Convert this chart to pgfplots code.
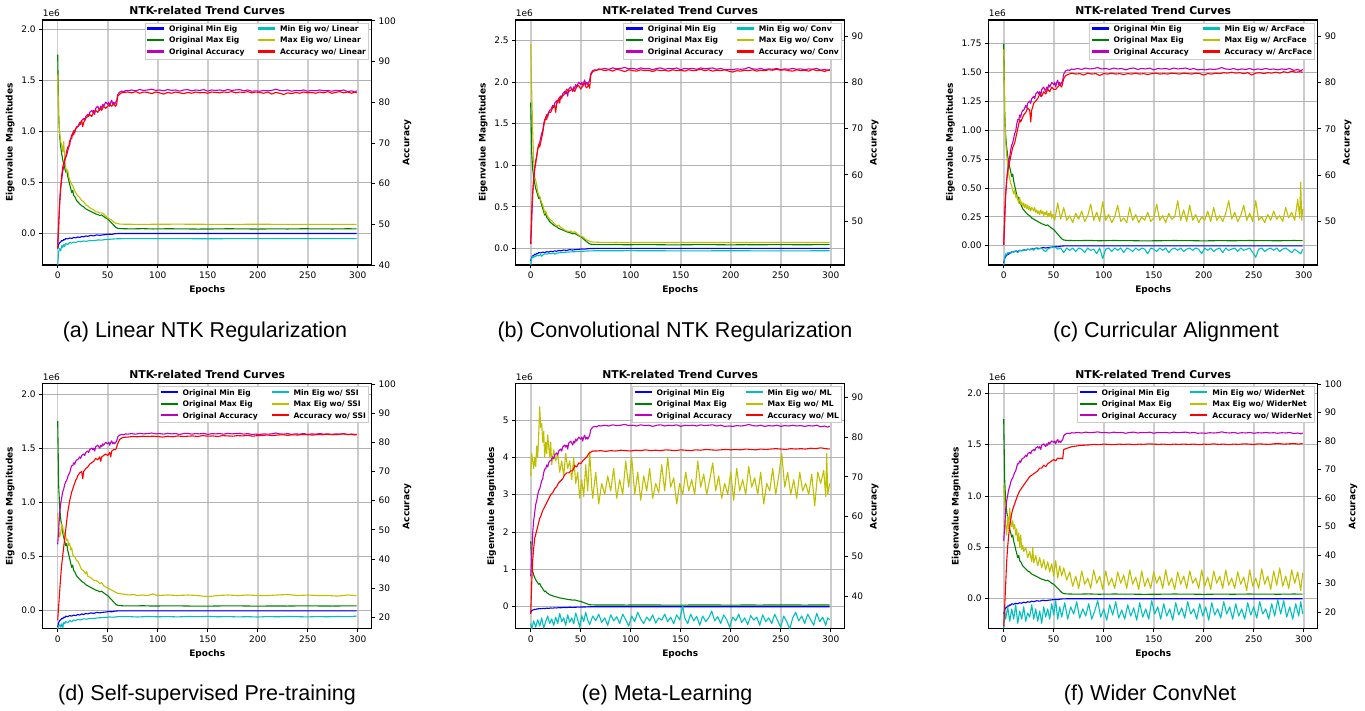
\documentclass[border=0pt]{standalone}
\usepackage{fontspec}
\setmainfont{DejaVu Sans}
\newfontfamily\capfont{Liberation Sans}
\usepackage{pgfplots}
\usepackage{pgfplotstable}
\pgfplotsset{compat=1.18}
\definecolor{mb}{rgb}{0,0,1}
\definecolor{mg}{rgb}{0,0.5,0}
\definecolor{mm}{rgb}{0.75,0,0.75}
\definecolor{mc}{rgb}{0,0.75,0.75}
\definecolor{my}{rgb}{0.75,0.75,0}
\definecolor{mr}{rgb}{1,0,0}

% ---------------- shared "Original" series ----------------
\pgfplotstableread{
x y
0 -0.15
1 -0.11
2 -0.09
3 -0.085
4 -0.07
5 -0.075
6 -0.06
7 -0.065
8 -0.05
10 -0.055
12 -0.045
14 -0.05
16 -0.04
18 -0.045
20 -0.035
22 -0.04
24 -0.03
26 -0.035
28 -0.025
30 -0.03
33 -0.02
36 -0.025
39 -0.015
42 -0.02
45 -0.015
48 -0.012
51 -0.008
54 -0.01
57 -0.004
60 -0.002
65 -0.001
299 -0.001
}\tOmin
\pgfplotstableread{
x y
0 1.75
1 1.15
2 0.95
3 0.85
4 0.78
5 0.72
6 0.68
7 0.64
8 0.6
9 0.62
10 0.56
11 0.52
12 0.48
13 0.44
14 0.4
15 0.42
16 0.37
17 0.36
18 0.34
19 0.32
20 0.31
22 0.29
24 0.27
26 0.26
28 0.24
30 0.23
32 0.22
34 0.21
36 0.2
38 0.19
40 0.185
42 0.175
44 0.18
46 0.165
48 0.15
50 0.14
52 0.12
54 0.1
56 0.08
58 0.06
60 0.05
62 0.047
66 0.045
75 0.044
85 0.046
95 0.043
110 0.045
125 0.044
140 0.042
155 0.043
170 0.045
185 0.044
200 0.042
215 0.044
230 0.043
245 0.045
260 0.044
275 0.043
290 0.045
299 0.044
}\tOmax
\pgfplotstableread{
x y
0 45
1 50
2 56
3 59
4 61
5 63
6 64
7 65.5
8 66.5
9 67
10 68
11 69
12 69.5
13 71
14 72
15 72
16 73
17 72.5
18 73.5
19 74
20 74
22 75
23 74.5
24 75.5
26 76
27 75.5
28 76.5
30 77
31 76.5
32 77.5
34 78
35 77.5
36 78
37 77
38 78.5
40 79
42 78
43 79
44 78.5
45 79.5
46 79
48 80
50 79.5
51 80
52 79
53 80
54 80.5
55 79.5
56 80
57 79.5
58 80
59 80.5
60 81.8
61 82.2
62 82.5
64 82.7
66 82.6
68 82.9
70 82.8
74 83
78 82.8
82 83.1
86 82.9
90 83
94 83.2
98 82.9
102 83
106 82.8
110 83.1
114 82.9
118 83
122 82.7
126 83
130 83.1
134 82.8
138 83
142 82.9
146 83.1
150 82.7
154 83
158 82.9
162 83
166 82.8
170 83.1
174 82.9
178 83
182 83.1
186 82.8
190 83
194 82.7
198 82.8
202 82.7
206 82.9
210 82.8
214 82.9
218 83.2
222 82.9
226 82.8
230 83
234 82.7
238 82.9
242 82.8
246 83
250 82.7
254 82.9
258 82.8
262 83
266 82.8
270 82.9
274 82.7
278 82.9
282 82.8
286 83
290 82.6
294 82.8
297 82.5
299 82.8
}\tOacc

% ---------------- (a) wo/ Linear ----------------
\pgfplotstableread{
x y
0 -0.31
1 -0.18
2 -0.15
3 -0.17
4 -0.12
5 -0.14
6 -0.11
7 -0.13
8 -0.1
10 -0.11
12 -0.09
14 -0.095
16 -0.085
18 -0.09
20 -0.08
23 -0.082
26 -0.075
29 -0.078
32 -0.07
36 -0.072
40 -0.065
44 -0.066
48 -0.06
52 -0.058
56 -0.055
60 -0.053
65 -0.052
100 -0.051
150 -0.053
200 -0.051
250 -0.052
299 -0.052
}\tAmin
\pgfplotstableread{
x y
0 1.55
1 1.15
2 0.98
3 0.9
4 0.86
5 0.8
6 0.9
7 0.72
8 0.65
9 0.6
10 0.62
11 0.56
12 0.52
13 0.5
14 0.48
15 0.47
16 0.44
17 0.42
18 0.4
19 0.38
20 0.37
22 0.35
24 0.32
26 0.31
28 0.28
30 0.27
32 0.25
34 0.24
36 0.23
38 0.21
40 0.21
42 0.2
44 0.2
46 0.19
48 0.17
50 0.15
52 0.14
54 0.13
56 0.11
58 0.1
60 0.095
63 0.09
80 0.088
120 0.09
160 0.088
200 0.089
240 0.088
299 0.088
}\tAmax
\pgfplotstableread{
x y
0 44
1 50
2 55
3 59
4 62
5 64
6 65
7 66
8 66.5
9 68
10 69
11 69
12 70.5
13 71
14 71
15 72.5
16 72
17 73
18 73.5
20 74
22 74.5
24 75.5
25 74
26 75
28 76
30 76.5
32 77
34 76.5
36 77.5
38 78
40 77.5
42 78.5
44 78
46 79
48 78.5
50 79
52 79.5
54 79
56 79.5
58 79
59 79.5
60 81.5
62 82
64 82.3
66 82.4
70 82.5
74 82.3
78 82.6
82 82.2
86 82.5
90 82.4
94 82.1
98 82.5
102 82.3
106 82
110 82.4
114 82.2
118 82.5
122 82.3
126 82.1
130 82.4
134 82.2
138 82.5
142 82.3
146 82.4
150 82.2
154 82.5
158 82.4
162 82.3
166 82.5
170 82.4
174 82.6
178 82.3
182 82.5
186 82.4
190 82.6
194 82.3
198 82.5
202 82.4
206 82.2
210 82.5
214 82
218 82.4
222 82.2
226 81.9
230 82.3
234 82.1
238 82.4
242 82.2
246 82.5
250 82.3
254 82.4
258 82.2
262 82.5
266 82.3
270 82.6
274 82.2
278 82.4
282 82.6
286 82.3
290 82.5
294 82.2
297 82.5
299 82.3
}\tAacc

% ---------------- (b) wo/ Conv ----------------
\pgfplotstableread{
x y
0 -0.2
1 -0.12
2 -0.1
3 -0.11
4 -0.09
5 -0.1
6 -0.08
8 -0.09
10 -0.075
11 -0.095
12 -0.08
14 -0.065
16 -0.07
18 -0.06
20 -0.065
23 -0.055
24 -0.07
26 -0.058
30 -0.05
35 -0.047
40 -0.042
45 -0.04
50 -0.037
55 -0.033
60 -0.03
65 -0.029
100 -0.028
150 -0.03
200 -0.029
250 -0.03
299 -0.029
}\tBmin
\pgfplotstableread{
x y
0 2.45
1 1.9
2 1.4
3 1.05
4 0.85
5 0.82
6 0.76
7 0.68
8 0.64
9 0.62
10 0.58
11 0.55
12 0.52
13 0.48
14 0.42
15 0.45
16 0.41
17 0.38
18 0.37
19 0.35
20 0.34
22 0.32
24 0.29
26 0.27
28 0.28
30 0.25
32 0.24
34 0.22
36 0.21
38 0.2
40 0.21
42 0.19
44 0.2
46 0.18
48 0.16
50 0.145
52 0.14
54 0.12
56 0.1
58 0.09
60 0.08
63 0.075
70 0.072
100 0.07
150 0.071
200 0.07
250 0.072
299 0.07
}\tBmax
\pgfplotstableread{
x y
0 45
1 52
2 56
3 59
4 61.5
5 62.5
6 64
7 65.5
8 66.5
9 66
10 67
11 68
12 69
13 70.5
14 71.5
15 72.5
16 72
17 73
18 73.5
20 73.5
22 74.5
24 75
25 73.5
26 75.5
28 76.5
29 75.5
30 77
32 77
34 77.5
36 78.5
38 78
40 78.3
42 78.5
44 78
46 79
48 79.3
50 78.5
52 79.3
54 79.8
55 79
56 78.8
58 79.5
59 78.7
60 81.5
62 82.3
64 82.5
66 82.6
70 82.8
74 82.5
78 82.7
82 82.4
86 82.8
90 82.6
94 82.3
98 82.7
102 82.5
106 82.4
110 82.7
114 82.5
118 82.6
122 82.3
126 82.7
130 82.5
134 82.6
138 82.4
142 82.7
146 82.5
150 82.6
154 82.4
158 82.7
162 82.5
166 82.6
170 82.8
174 82.5
178 82.7
182 82.4
186 82.6
190 82.5
194 82.7
198 82.4
202 82.2
206 82.5
210 82.4
214 82.6
218 82.5
222 82.7
226 82.4
230 82.6
234 82.5
238 82.7
242 82.6
246 82.8
250 82.6
254 82.7
258 82.5
262 82.4
266 82.7
270 82.5
274 82.6
278 82.4
282 82.8
286 82.5
290 82.6
294 82.3
297 82.7
299 82.5
}\tBacc

% ---------------- (c) w/ ArcFace ----------------
\pgfplotstableread{
x y
0 -0.17
1 -0.1
2 -0.07
3 -0.08
4 -0.06
6 -0.065
8 -0.05
10 -0.055
12 -0.045
14 -0.06
16 -0.04
18 -0.045
20 -0.035
22 -0.04
24 -0.03
26 -0.035
28 -0.025
30 -0.04
32 -0.02
34 -0.03
36 -0.025
38 -0.02
40 -0.04
42 -0.05
44 -0.03
46 -0.02
48 -0.015
51 -0.01
54 -0.03
57 -0.02
60 -0.06
63 -0.02
66 -0.04
69 -0.02
72 -0.05
75 -0.02
78 -0.03
81 -0.06
84 -0.02
87 -0.04
90 -0.03
93 -0.07
96 -0.02
99 -0.11
102 -0.03
105 -0.02
108 -0.05
111 -0.02
114 -0.04
117 -0.02
120 -0.06
123 -0.02
126 -0.03
129 -0.05
132 -0.02
135 -0.04
138 -0.02
141 -0.03
144 -0.07
147 -0.02
150 -0.03
153 -0.05
156 -0.02
159 -0.04
162 -0.02
165 -0.06
168 -0.03
171 -0.02
174 -0.04
177 -0.02
180 -0.05
183 -0.03
186 -0.02
189 -0.04
192 -0.02
195 -0.03
198 -0.07
201 -0.02
204 -0.04
207 -0.02
210 -0.05
213 -0.03
216 -0.02
219 -0.06
222 -0.02
225 -0.04
228 -0.03
231 -0.02
234 -0.05
237 -0.02
240 -0.04
243 -0.03
246 -0.02
249 -0.06
252 -0.1
255 -0.03
258 -0.02
261 -0.05
264 -0.03
267 -0.02
270 -0.04
273 -0.02
276 -0.05
279 -0.03
282 -0.02
285 -0.04
288 -0.06
291 -0.03
294 -0.05
297 -0.07
299 -0.03
}\tCmin
\pgfplotstableread{
x y
0 1.7
1 1.15
2 0.9
3 0.78
4 0.7
5 0.62
6 0.58
7 0.54
8 0.52
9 0.48
10 0.45
11 0.48
12 0.42
13 0.44
14 0.4
15 0.37
16 0.42
17 0.36
18 0.38
19 0.34
20 0.37
21 0.33
22 0.36
23 0.32
24 0.35
25 0.31
26 0.34
27 0.3
28 0.33
29 0.32
30 0.3
31 0.33
32 0.29
33 0.31
34 0.28
35 0.3
36 0.27
37 0.31
38 0.28
39 0.3
40 0.26
41 0.29
42 0.27
43 0.3
44 0.25
45 0.28
46 0.26
47 0.3
48 0.24
49 0.27
50 0.25
51 0.22
54 0.37
57 0.23
60 0.33
63 0.22
66 0.26
69 0.2
72 0.28
75 0.23
78 0.3
81 0.21
84 0.26
87 0.36
90 0.22
93 0.29
96 0.21
99 0.38
102 0.22
105 0.27
108 0.2
111 0.25
114 0.35
117 0.21
120 0.24
123 0.2
126 0.33
129 0.22
132 0.27
135 0.2
138 0.25
141 0.22
144 0.29
147 0.21
150 0.24
153 0.36
156 0.22
159 0.26
162 0.2
165 0.28
168 0.23
171 0.25
174 0.39
177 0.22
180 0.31
183 0.21
186 0.35
189 0.22
192 0.27
195 0.2
198 0.25
201 0.22
204 0.3
207 0.21
210 0.33
213 0.22
216 0.26
219 0.21
222 0.28
225 0.39
228 0.23
231 0.29
234 0.21
237 0.26
240 0.35
243 0.22
246 0.28
249 0.21
252 0.39
255 0.22
258 0.25
261 0.2
264 0.27
267 0.22
270 0.3
273 0.23
276 0.26
279 0.21
282 0.33
285 0.24
288 0.29
291 0.22
294 0.4
296 0.24
297 0.55
298 0.22
299 0.32
}\tCmax
\pgfplotstableread{
x y
0 45
1 52
2 56
3 59
4 61
5 62
6 63
7 64
8 65
9 66
10 66.5
11 67
12 68
13 69
14 70
15 71
16 72
17 71.5
18 72
20 73
22 73.5
24 74.5
26 74
27 71.5
28 74
30 75.5
32 76
34 76.5
36 77.5
38 77
40 78
42 77.5
44 78.5
46 78
48 79
50 78.5
52 78.5
54 79
56 79.5
58 79
60 80.8
62 81.5
64 81.7
68 82
72 81.8
76 81.9
80 81.6
84 82
88 81.8
92 81.9
96 81.5
100 81.9
104 81.8
108 82
112 81.8
116 81.9
120 81.7
124 81.9
128 81.8
132 82
136 81.8
140 81.9
144 81.7
148 81.9
152 82
156 81.8
160 81.9
164 81.8
168 82
172 81.9
176 81.8
180 82
184 81.9
188 81.8
192 82
196 81.9
200 81.6
204 81.9
208 81.8
212 82
216 81.9
220 82.1
224 82
228 82.2
232 82
236 82.1
240 81.9
244 82.1
248 81.6
252 82
256 82.1
260 81.9
264 82.1
268 82
272 82.2
276 82
280 82.3
284 82.1
288 82.4
292 82.2
296 82.3
299 82.2
}\tCacc

% ---------------- (d) wo/ SSI ----------------
\pgfplotstableread{
x y
0 -0.17
1 -0.14
2 -0.13
3 -0.15
4 -0.12
5 -0.16
6 -0.11
7 -0.12
8 -0.1
10 -0.11
12 -0.09
14 -0.1
16 -0.085
18 -0.09
20 -0.08
23 -0.085
26 -0.075
29 -0.078
32 -0.07
36 -0.072
40 -0.066
44 -0.064
48 -0.062
52 -0.058
56 -0.06
60 -0.055
70 -0.054
80 -0.058
90 -0.053
100 -0.056
110 -0.054
120 -0.057
130 -0.053
140 -0.055
150 -0.052
160 -0.056
170 -0.054
180 -0.057
190 -0.055
200 -0.058
210 -0.054
220 -0.056
230 -0.053
240 -0.055
250 -0.057
260 -0.054
270 -0.056
280 -0.053
290 -0.055
299 -0.05
}\tDmin
\pgfplotstableread{
x y
0 0.9
1 0.75
2 0.68
3 0.72
4 0.8
5 0.78
6 0.7
7 0.72
8 0.68
9 0.65
10 0.66
11 0.6
12 0.62
13 0.56
14 0.58
15 0.52
16 0.5
17 0.5
18 0.48
19 0.46
20 0.46
22 0.42
24 0.38
26 0.37
28 0.34
29 0.36
30 0.32
32 0.31
34 0.3
36 0.28
38 0.28
40 0.27
42 0.25
44 0.26
46 0.23
48 0.22
50 0.21
52 0.2
54 0.19
56 0.18
58 0.17
60 0.16
64 0.155
68 0.15
72 0.145
76 0.15
80 0.14
85 0.145
90 0.14
95 0.155
100 0.14
110 0.145
120 0.14
130 0.145
140 0.14
150 0.13
160 0.14
170 0.145
180 0.14
190 0.145
200 0.14
210 0.14
220 0.145
230 0.15
240 0.14
250 0.145
260 0.14
270 0.14
280 0.135
290 0.145
299 0.14
}\tDmax
\pgfplotstableread{
x y
0 19
1 24
2 29
3 34
4 38
5 41
6 44
7 47
8 50
9 53
10 56
11 58
12 60
13 61.5
14 63
15 64
16 65
17 66
18 67
19 67.5
20 68.5
22 69.5
24 70
25 67.5
26 70
28 71
30 71.5
32 72.5
34 73
36 73.5
38 74.5
40 74
42 75
43 73.5
44 75
46 75.5
48 76
50 75.5
52 76.5
53 75
54 77
56 77.5
58 77.5
60 79.5
62 81
64 81.5
66 81.7
70 81.8
75 82
80 81.9
85 82.1
90 82
95 82.1
100 82
105 81.8
110 82.1
115 81.9
120 82.2
125 82
130 82.1
135 82.2
140 82
145 82.3
150 82.1
155 82.2
160 82
165 82.3
170 82.2
175 82.1
180 82.3
185 82.2
190 82.4
195 82.1
200 82.3
205 82.4
210 82.5
215 82.3
220 82.5
225 82.6
230 82.4
235 82.6
240 82.5
245 82.7
250 82.6
255 82.5
260 82.7
265 82.6
270 82.8
275 82.6
280 82.7
285 82.9
290 82.7
295 82.8
299 82.6
}\tDacc

% ---------------- (e) wo/ ML ----------------
\pgfplotstableread{
x y
0 -0.45
1 -0.6
3 -0.38
5 -0.55
7 -0.35
9 -0.52
11 -0.3
13 -0.57
15 -0.4
17 -0.25
19 -0.45
21 -0.33
23 -0.5
25 -0.28
27 -0.45
29 -0.18
31 -0.4
33 -0.3
35 -0.5
37 -0.22
39 -0.42
41 -0.3
43 -0.46
45 -0.17
47 -0.35
49 -0.55
51 -0.24
53 -0.4
55 -0.15
57 -0.36
59 -0.48
62 -0.25
65 -0.38
68 -0.2
71 -0.42
74 -0.3
77 -0.5
80 -0.22
83 -0.38
86 -0.27
89 -0.45
92 -0.2
95 -0.35
98 -0.52
101 -0.25
104 -0.4
107 -0.15
110 -0.33
113 -0.45
116 -0.28
119 -0.38
122 -0.22
125 -0.44
128 -0.3
131 -0.36
134 -0.2
137 -0.4
140 -0.28
143 -0.46
146 -0.22
149 -0.35
152 0.02
154 -0.3
157 -0.45
160 -0.2
163 -0.38
166 -0.26
169 -0.5
172 -0.25
175 -0.4
178 -0.3
181 -0.12
184 -0.38
187 -0.27
190 -0.45
193 -0.22
196 -0.35
199 -0.55
202 -0.28
205 -0.38
208 -0.2
211 -0.42
214 -0.3
217 -0.48
220 -0.24
223 -0.36
226 -0.28
229 -0.5
232 -0.22
235 -0.4
238 -0.3
241 -0.45
244 -0.2
247 -0.38
250 -0.55
253 -0.25
256 -0.4
259 -0.6
262 -0.3
265 -0.15
268 -0.38
271 -0.25
274 -0.45
277 -0.2
280 -0.35
283 -0.5
286 -0.18
289 -0.4
292 -0.28
295 -0.5
297 -0.3
299 -0.35
}\tEmin
\pgfplotstableread{
x y
0 3.5
1 4.1
2 3.9
3 3.7
4 4.0
5 3.75
6 4.3
7 4.0
8 4.6
9 5.35
10 4.8
11 4.9
12 4.4
13 4.7
14 4.0
15 4.4
16 4.1
17 4.6
18 4.3
19 4.0
20 4.4
21 3.8
23 4.2
25 3.9
27 4.1
29 3.6
31 3.9
33 3.5
35 4.1
37 3.7
39 3.9
41 3.4
43 4.0
45 3.3
47 3.6
49 2.9
51 3.4
53 2.95
55 3.8
57 3.1
59 4.15
61 3.2
62 2.9
65 3.6
68 2.75
71 3.3
74 3.0
77 3.5
80 3.1
83 3.7
86 2.9
89 3.4
92 3.0
95 3.9
98 3.2
101 4.0
104 3.0
107 3.6
110 2.85
113 3.5
116 3.1
119 3.7
122 2.9
125 3.3
128 3.05
131 3.8
134 3.1
137 4.0
140 3.2
143 3.45
146 2.75
149 3.3
152 3.0
155 3.6
158 3.1
161 3.4
164 3.0
167 3.9
170 3.2
173 3.55
176 3.0
179 3.4
182 3.85
185 3.1
188 3.5
191 2.9
194 3.3
197 3.0
200 3.6
203 2.85
206 3.7
209 3.1
212 3.4
215 3.0
218 3.75
221 3.2
224 3.45
227 3.0
230 3.6
233 2.75
236 3.3
239 3.1
242 3.7
245 3.0
248 3.5
251 4.1
254 3.2
257 3.6
260 3.0
263 3.4
266 2.9
269 3.6
272 3.1
275 3.3
278 3.0
281 3.55
284 2.7
287 3.6
290 3.3
293 3.65
295 2.95
296 4.1
297 3.0
299 3.3
}\tEmax
\pgfplotstableread{
x y
0 35.5
1 43
2 49
3 52
4 54.5
5 55.5
6 56.5
7 57.5
8 58.5
9 59.5
10 60
12 61.5
14 62.5
16 63.5
18 64.5
20 65.5
22 66
24 67
26 67.5
28 68.5
30 69
32 69.5
34 70.5
36 71
38 71
40 71.5
42 71.5
44 72.8
46 72.5
48 73.5
50 73.3
52 74
54 74.5
56 75
58 75.8
60 76.2
62 76.5
66 76.5
70 76.6
75 76.4
80 76.6
85 76.5
90 76.7
95 76.6
100 76.5
105 76.7
110 76.6
115 76.8
120 76.6
125 76.7
130 76.6
135 76.8
140 76.7
145 76.6
150 76.8
155 76.7
160 76.6
165 76.8
170 76.7
175 76.9
180 76.8
185 76.7
190 76.8
195 76.9
200 76.8
205 76.9
210 76.8
215 77
220 76.9
225 76.8
230 77
235 76.9
240 77
245 77.1
250 77
255 76.9
260 77.1
265 77
270 77.1
275 77
280 77.2
285 77.1
290 77.3
295 77.1
299 77
}\tEacc

% ---------------- (f) wo/ WiderNet ----------------
\pgfplotstableread{
x y
0 -0.29
1 -0.1
2 -0.2
4 -0.08
6 -0.22
8 -0.1
10 -0.2
12 -0.06
14 -0.24
16 -0.12
18 -0.2
20 -0.08
22 -0.22
24 -0.14
26 -0.18
28 -0.06
30 -0.2
32 -0.1
34 -0.22
36 -0.12
38 -0.24
40 -0.08
42 -0.18
44 -0.1
46 -0.2
48 -0.05
50 -0.16
52 -0.02
54 -0.2
56 -0.08
58 -0.18
61 -0.04
64 -0.2
67 -0.08
70 -0.15
73 -0.03
76 -0.19
79 -0.1
82 -0.17
85 -0.05
88 -0.2
91 -0.12
94 -0.02
97 -0.18
100 -0.1
103 -0.21
106 -0.06
109 -0.16
112 -0.03
115 -0.19
118 -0.11
121 -0.2
124 -0.06
127 -0.17
130 -0.09
133 -0.21
136 -0.04
139 -0.18
142 -0.1
145 -0.2
148 -0.02
151 -0.15
154 -0.08
157 -0.2
160 -0.05
163 -0.17
166 -0.1
169 -0.21
172 -0.04
175 -0.16
178 -0.09
181 -0.19
184 -0.03
187 -0.15
190 -0.1
193 -0.2
196 -0.05
199 -0.17
202 -0.08
205 -0.21
208 -0.04
211 -0.16
214 -0.1
217 -0.19
220 -0.03
223 -0.15
226 -0.08
229 -0.2
232 -0.05
235 -0.17
238 -0.1
241 -0.2
244 -0.04
247 -0.16
250 -0.08
253 -0.19
256 -0.03
259 -0.15
262 -0.1
265 -0.2
268 -0.05
271 -0.17
274 -0.01
277 -0.15
280 -0.02
283 -0.18
286 -0.08
289 -0.2
292 -0.05
295 -0.17
297 -0.03
299 -0.15
}\tFmin
\pgfplotstableread{
x y
0 1.1
1 0.95
2 0.7
3 0.62
4 0.8
5 0.68
6 0.88
7 0.75
8 0.7
9 0.76
10 0.68
11 0.72
12 0.62
13 0.68
14 0.56
15 0.64
16 0.5
17 0.62
18 0.48
19 0.52
20 0.46
22 0.5
24 0.4
26 0.46
28 0.36
29 0.5
30 0.35
32 0.42
34 0.32
36 0.4
38 0.3
40 0.38
42 0.28
44 0.36
46 0.26
48 0.34
50 0.22
52 0.37
54 0.2
56 0.32
58 0.22
60 0.3
63 0.18
66 0.26
69 0.12
72 0.22
75 0.1
78 0.27
81 0.14
84 0.2
87 0.1
90 0.28
93 0.15
96 0.22
99 0.09
102 0.27
105 0.13
108 0.2
111 0.1
114 0.26
117 0.15
120 0.23
123 0.1
126 0.28
129 0.14
132 0.21
135 0.09
138 0.27
141 0.12
144 0.2
147 0.1
150 0.26
153 0.15
156 0.22
159 0.1
162 0.28
165 0.13
168 0.2
171 0.09
174 0.26
177 0.14
180 0.22
183 0.1
186 0.27
189 0.15
192 0.2
195 0.1
198 0.28
201 0.12
204 0.21
207 0.09
210 0.27
213 0.15
216 0.22
219 0.1
222 0.28
225 0.13
228 0.2
231 0.1
234 0.26
237 0.14
240 0.21
243 0.08
246 0.28
249 0.12
252 0.2
255 0.1
258 0.29
261 0.14
264 0.22
267 0.09
270 0.27
273 0.13
276 0.3
279 0.12
282 0.22
285 0.1
288 0.28
291 0.15
294 0.26
297 0.08
299 0.25
}\tFmax
\pgfplotstableread{
x y
0 15
1 22
2 30
3 38
4 43
5 47
6 50
7 52.5
8 54.5
9 56
10 57
12 59
14 61
16 62.5
18 63.5
20 64.5
22 65.5
24 66.5
26 67.5
28 68
30 68.5
32 69
34 69.5
36 70.5
38 70.5
40 71.5
42 71
44 72
46 72.5
48 73
50 73.5
52 73
54 74
56 73.8
58 74
59 73.7
60 77
62 77.3
64 77.5
68 78
72 78.2
76 78.4
80 78.5
85 78.6
90 78.8
95 78.7
100 78.9
105 78.8
110 78.7
115 78.9
120 78.8
125 78.9
130 78.7
135 78.9
140 78.8
145 79
150 78.9
155 78.8
160 78.9
165 78.7
170 78.9
175 78.8
180 78.9
185 78.8
190 78.9
195 78.7
200 78.9
205 78.8
210 79
215 78.8
220 78.9
225 78.7
230 78.9
235 78.8
240 79
245 78.9
250 78.8
255 79
260 78.9
265 78.8
270 79
275 79.1
280 78.9
285 79
290 79.1
295 78.9
299 79.1
}\tFacc

\pgfplotsset{
  common/.style={
    width=329pt, height=245pt, scale only axis,
    xmin=-15, xmax=314,
    tick align=outside,
    major tick length=3.5pt,
    every tick/.style={black, line width=0.8pt},
    axis line style={line width=1.2pt},
    ticklabel style={font=\fontsize{9}{10.8}\selectfont},
    label style={font=\fontsize{9}{10.8}\selectfont\bfseries},
    /pgf/number format/assume math mode=true,
    every axis plot/.append style={line width=1.1pt, line join=round},
  },
  leftax/.style={common,
    xtick={0,50,...,300}, xtick pos=left, ytick pos=left,
    xlabel={Epochs}, ylabel={Eigenvalue Magnitudes},
    grid=major,
    x grid style={black!20, line width=1.6pt},
    y grid style={black!30, line width=0.8pt},
    title={NTK-related Trend Curves},
    title style={at={(0.5,1)}, anchor=base, yshift=-0.7pt, inner sep=0pt,
      font=\fontsize{10.8}{13}\selectfont\bfseries},
  },
  rightax/.style={
    axis x line=none, axis y line*=right, common,
    ylabel={Accuracy},
    legend columns=2,
    legend cell align=left,
    legend style={at={(0.99,0.989)}, anchor=north east,
      font=\fontsize{7.6}{9}\selectfont\bfseries,
      draw=black!20, fill=white,
      inner xsep=1pt, inner ysep=1.5pt, row sep=1.5pt,
      nodes={inner sep=1.3pt, text height=5.8pt, text depth=1.6pt},
      /tikz/every even column/.append style={column sep=11pt}},
  },
}
% legend keys typeset as coloured rules inside the entry text
\newcommand{\legitem}[2]{%
  \addlegendimage{empty legend}%
  \addlegendentry{\textcolor{#1}{\rule[1.8pt]{17pt}{2.2pt}}\hspace{5pt}#2}%
}
\newcommand{\mylegend}[1]{%
  \legitem{mb}{Original Min Eig}
  \legitem{mc}{Min Eig #1}
  \legitem{mg}{Original Max Eig}
  \legitem{my}{Max Eig #1}
  \legitem{mm}{Original Accuracy}
  \legitem{mr}{Accuracy #1}
}
\newcommand{\eigplots}[2]{%
  \addplot[mb] table {\tOmin};
  \addplot[mg] table {\tOmax};
  \addplot[mc] table {#1};
  \addplot[my] table {#2};
}
\newcommand{\accplots}[2]{%
  \addplot[mm, forget plot] table {\tOacc};
  \addplot[mr, forget plot] table {#1};
  \mylegend{#2}
}

\begin{document}
\begin{tikzpicture}
\useasboundingbox (0,0) rectangle (1365pt,710pt);

% (a)
\begin{axis}[leftax, name=A, at={(42.7pt,445pt)}, anchor=south west,
  ymin=-0.31, ymax=2.09, ytick={0,0.5,...,2.0},
  yticklabel style={/pgf/number format/.cd, fixed, fixed zerofill, precision=1}]
\eigplots{\tAmin}{\tAmax}
\end{axis}
\begin{axis}[rightax, at={(42.7pt,445pt)}, anchor=south west,
  ymin=40, ymax=100.2, ytick={40,50,...,100}]
\accplots{\tAacc}{wo/ Linear}
\end{axis}

% (b)
\begin{axis}[leftax, name=B, at={(515.7pt,445pt)}, anchor=south west,
  ymin=-0.2, ymax=2.744, ytick={0,0.5,...,2.5},
  yticklabel style={/pgf/number format/.cd, fixed, fixed zerofill, precision=1}]
\eigplots{\tBmin}{\tBmax}
\end{axis}
\begin{axis}[rightax, at={(515.7pt,445pt)}, anchor=south west,
  ymin=40.49, ymax=93.46, ytick={50,60,...,90}]
\accplots{\tBacc}{wo/ Conv}
\end{axis}

% (c)
\begin{axis}[leftax, name=C, at={(988.7pt,445pt)}, anchor=south west,
  ymin=-0.167, ymax=1.955, ytick={0,0.25,...,1.75},
  yticklabel style={/pgf/number format/.cd, fixed, fixed zerofill, precision=2}]
\eigplots{\tCmin}{\tCmax}
\end{axis}
\begin{axis}[rightax, at={(988.7pt,445pt)}, anchor=south west,
  ymin=40.67, ymax=93.45, ytick={50,60,...,90}]
\accplots{\tCacc}{w/ ArcFace}
\end{axis}

% (d)
\begin{axis}[leftax, name=D, at={(42.7pt,81.3pt)}, anchor=south west,
  ymin=-0.166, ymax=2.095, ytick={0,0.5,...,2.0},
  yticklabel style={/pgf/number format/.cd, fixed, fixed zerofill, precision=1}]
\eigplots{\tDmin}{\tDmax}
\end{axis}
\begin{axis}[rightax, at={(42.7pt,81.3pt)}, anchor=south west,
  ymin=16.1, ymax=100.1, ytick={20,30,...,100}]
\accplots{\tDacc}{wo/ SSI}
\end{axis}

% (e)
\begin{axis}[leftax, name=E, at={(515.7pt,81.3pt)}, anchor=south west,
  ymin=-0.59, ymax=5.97, ytick={0,1,...,5},
  yticklabel style={/pgf/number format/.cd, fixed, precision=0}]
\eigplots{\tEmin}{\tEmax}
\end{axis}
\begin{axis}[rightax, at={(515.7pt,81.3pt)}, anchor=south west,
  ymin=31.76, ymax=93.45, ytick={40,50,...,90}]
\accplots{\tEacc}{wo/ ML}
\end{axis}

% (f)
\begin{axis}[leftax, name=F, at={(988.7pt,81.3pt)}, anchor=south west,
  ymin=-0.293, ymax=2.095, ytick={0,0.5,...,2.0},
  yticklabel style={/pgf/number format/.cd, fixed, fixed zerofill, precision=1}]
\eigplots{\tFmin}{\tFmax}
\end{axis}
\begin{axis}[rightax, at={(988.7pt,81.3pt)}, anchor=south west,
  ymin=14.13, ymax=100.1, ytick={20,30,...,100}]
\accplots{\tFacc}{wo/ WiderNet}
\end{axis}

% offset labels
\foreach \n in {A,B,C,D,E,F}{
  \node[anchor=base west, font=\fontsize{9}{10}\selectfont, inner sep=0pt] at ([yshift=3.5pt]\n.north west) {1e6};
}

% captions
\begin{scope}[every node/.style={anchor=base, font=\capfont\fontsize{21.5}{25}\selectfont, inner sep=0pt}]
\node at (205pt,372pt) {(a) Linear NTK Regularization};
\node at (675pt,372pt) {(b) Convolutional NTK Regularization};
\node at (1166pt,372pt) {(c) Curricular Alignment};
\node at (207pt,10pt) {(d) Self-supervised Pre-training};
\node at (667pt,10pt) {(e) Meta-Learning};
\node at (1150pt,10pt) {(f) Wider ConvNet};
\end{scope}
\end{tikzpicture}
\end{document}
